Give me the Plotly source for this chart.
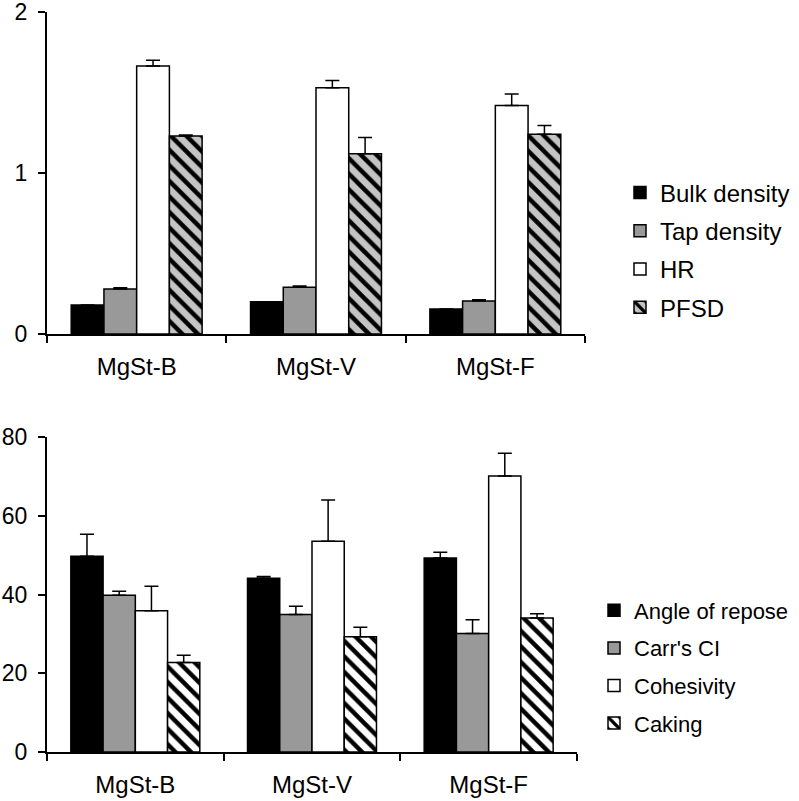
import plotly.graph_objects as go

# data
samples = ["MgSt-B", "MgSt-V", "MgSt-F"]

bulk_density = [0.18, 0.20, 0.155]
bulk_density_err = [0.0, 0.0, 0.0]
tap_density = [0.28, 0.29, 0.205]
tap_density_err = [0.008, 0.008, 0.008]
hr = [1.665, 1.53, 1.42]
hr_err = [0.035, 0.045, 0.07]
pfsd = [1.23, 1.12, 1.24]
pfsd_err = [0.006, 0.10, 0.055]

angle_of_repose = [49.7, 44.1, 49.3]
angle_of_repose_err = [5.6, 0.5, 1.4]
carrs_ci = [39.8, 34.9, 30.1]
carrs_ci_err = [1.0, 2.1, 3.5]
cohesivity = [35.9, 53.5, 70.1]
cohesivity_err = [6.2, 10.5, 5.8]
caking = [22.7, 29.3, 34.0]
caking_err = [1.9, 2.4, 1.1]

FONT = "Liberation Sans, Arial, sans-serif"
W, H = 799, 801

top_series = [
    ("Bulk density", bulk_density, bulk_density_err, "#000000", None),
    ("Tap density", tap_density, tap_density_err, "#999999", None),
    ("HR", hr, hr_err, "#ffffff", None),
    ("PFSD", pfsd, pfsd_err, "#c4c4c4", "\\"),
]
bottom_series = [
    ("Angle of repose", angle_of_repose, angle_of_repose_err, "#000000", None),
    ("Carr's CI", carrs_ci, carrs_ci_err, "#999999", None),
    ("Cohesivity", cohesivity, cohesivity_err, "#ffffff", None),
    ("Caking", caking, caking_err, "#ffffff", "\\"),
]


def bar(name, vals, errs, color, hatch, xa, ya, legend, group):
    marker = dict(color=color, line=dict(color="black", width=1.5))
    if hatch:
        marker["pattern"] = dict(shape=hatch, fgcolor="black", bgcolor=color,
                                 size=11, solidity=0.4, fillmode="replace")
    return go.Bar(
        x=samples, y=vals, name=name, marker=marker,
        xaxis=xa, yaxis=ya, legend=legend, legendgroup=group,
        error_y=dict(type="data", array=errs, arrayminus=[0] * len(errs),
                     symmetric=False, color="black", thickness=1.5, width=7),
    )


fig = go.Figure()
for i, s in enumerate(top_series):
    fig.add_trace(bar(*s, "x", "y", "legend", f"t{i}"))
for i, s in enumerate(bottom_series):
    fig.add_trace(bar(*s, "x2", "y2", "legend2", f"b{i}"))

xcommon = dict(
    showline=True, linecolor="black", linewidth=2, automargin=False,
    ticks="outside", tickson="boundaries", ticklen=7, tickwidth=2, tickcolor="black",
    showgrid=False, zeroline=False, range=[-0.5, 2.5],
    tickfont=dict(size=24, family=FONT, color="black"), ticklabelstandoff=10,
)
ycommon = dict(
    showline=True, linecolor="black", linewidth=2, automargin=False,
    ticks="outside", ticklen=7, tickwidth=2, tickcolor="black",
    showgrid=False, zeroline=False, ticklabeloverflow="allow",
    tickfont=dict(size=23, family=FONT, color="black"), ticklabelstandoff=6,
)

fig.update_layout(
    width=W, height=H,
    margin=dict(l=0, r=0, t=0, b=0, autoexpand=False),
    paper_bgcolor="white", plot_bgcolor="white",
    font=dict(family=FONT, color="black"),
    barmode="group", bargap=0.27, bargroupgap=0,
    xaxis=dict(domain=[47 / W, 585 / W], anchor="y", **xcommon),
    yaxis=dict(domain=[1 - 334 / H, 1 - 12 / H], anchor="x", range=[0, 2], dtick=1, **ycommon),
    xaxis2=dict(domain=[47 / W, 577 / W], anchor="y2", **xcommon),
    yaxis2=dict(domain=[1 - 752 / H, 1 - 437 / H], anchor="x2", range=[0, 80], dtick=20, **ycommon),
    legend=dict(x=620 / W, y=1 - 250 / H, xanchor="left", yanchor="middle",
                font=dict(size=24, family=FONT, color="black"),
                tracegroupgap=4, bgcolor="rgba(0,0,0,0)"),
    legend2=dict(x=594 / W, y=1 - 667 / H, xanchor="left", yanchor="middle",
                 font=dict(size=22, family=FONT, color="black"),
                 tracegroupgap=6, bgcolor="rgba(0,0,0,0)"),
)

# the page's default body margin would shift the figure by 8px
fig.write_html("out.html", config={"displayModeBar": False},
               post_script="document.body.style.margin='0';")
